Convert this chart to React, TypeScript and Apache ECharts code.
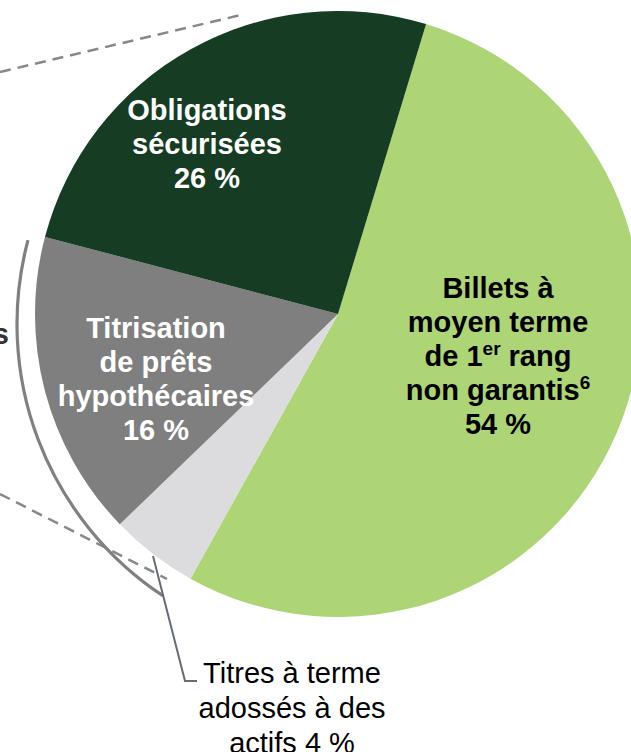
import React, { useEffect, useRef } from "react";
import * as echarts from "echarts";

const categories = [
  "Billets à moyen terme de 1er rang non garantis",
  "Titres à terme adossés à des actifs",
  "Titrisation de prêts hypothécaires",
  "Obligations sécurisées",
];
const values = [53.4, 4.7, 16.3, 25.6];
const pctLabels = ["54 %", "4 %", "16 %", "26 %"];
const labelTexts = [
  "{b|Billets à}\n{b|moyen terme}\n{b|de 1}{sup|er}{b| rang}\n{b|non garantis}{sup|6}\n{b|" + pctLabels[0] + "}",
  "{r|Titres à terme}\n{r|adossés à des}\n{r|actifs " + pctLabels[1] + "}",
  "{w|Titrisation}\n{w|de prêts}\n{w|hypothécaires}\n{w|" + pctLabels[2] + "}",
  "{w|Obligations}\n{w|sécurisées}\n{w|" + pctLabels[3] + "}",
];
const sliceColors = ["#ADD576", "#DCDCDE", "#7F7F7F", "#163C24"];
const labelPos = [
  [498, 356],
  [292, 708],
  [156, 379],
  [207, 144],
];

const FONT = "'Liberation Sans', Arial, sans-serif";

export default function App() {
  const ref = useRef<HTMLDivElement>(null);
  useEffect(() => {
    if (!ref.current) return;
    const chart = echarts.init(ref.current, undefined, { renderer: "svg" });
    const option: any = {
      animation: false,
      backgroundColor: "#ffffff",
      series: [
        {
          type: "pie",
          center: [338, 314],
          radius: [0, 303],
          startAngle: 73.1,
          clockwise: true,
          silent: true,
          label: {
            show: true,
            position: "inside",
            formatter: (p: any) => labelTexts[p.dataIndex],
            rich: {
              b: { fontFamily: FONT, fontSize: 29, fontWeight: "bold", color: "#000000", lineHeight: 34 },
              w: { fontFamily: FONT, fontSize: 29, fontWeight: "bold", color: "#ffffff", lineHeight: 34 },
              r: { fontFamily: FONT, fontSize: 29, fontWeight: "normal", color: "#000000", lineHeight: 35 },
              sup: { fontFamily: FONT, fontSize: 19, fontWeight: "bold", color: "#000000", lineHeight: 21, verticalAlign: "top" },
            },
          },
          labelLine: { show: false },
          labelLayout: (p: any) => ({
            x: labelPos[p.dataIndex][0],
            y: labelPos[p.dataIndex][1],
            align: "center",
            verticalAlign: "middle",
          }),
          data: categories.map((name, i) => ({
            name,
            value: values[i],
            itemStyle: { color: sliceColors[i] },
          })),
        },
      ],
      graphic: [
        {
          type: "line",
          shape: { x1: 0, y1: 72, x2: 245, y2: 14 },
          style: { stroke: "#888888", lineWidth: 2.5, lineDash: [11, 7] },
          z: 10,
        },
        {
          type: "line",
          shape: { x1: 0, y1: 494, x2: 167, y2: 579 },
          style: { stroke: "#888888", lineWidth: 2.5, lineDash: [11, 7] },
          z: 10,
        },
        {
          type: "arc",
          shape: { cx: 343, cy: 324, r: 326, startAngle: 2.155, endAngle: 3.402, clockwise: true },
          style: { stroke: "#808080", lineWidth: 3.2, fill: "none" },
          z: 10,
        },
        {
          type: "polyline",
          shape: { points: [[153, 556], [185, 681], [197, 681]] },
          style: { stroke: "#656C76", lineWidth: 2, fill: "none" },
          z: 10,
        },
        {
          type: "text",
          x: 9,
          y: 334,
          style: {
            text: "s",
            fontFamily: FONT,
            fontSize: 29,
            fontWeight: "bold",
            fill: "#333333",
            align: "right",
            verticalAlign: "middle",
          },
          z: 10,
        },
      ],
    };
    chart.setOption(option);
    return () => chart.dispose();
  }, []);
  return (
    <div
      ref={ref}
      style={{ position: "fixed", left: 0, top: 0, width: 631, height: 752 }}
    />
  );
}
